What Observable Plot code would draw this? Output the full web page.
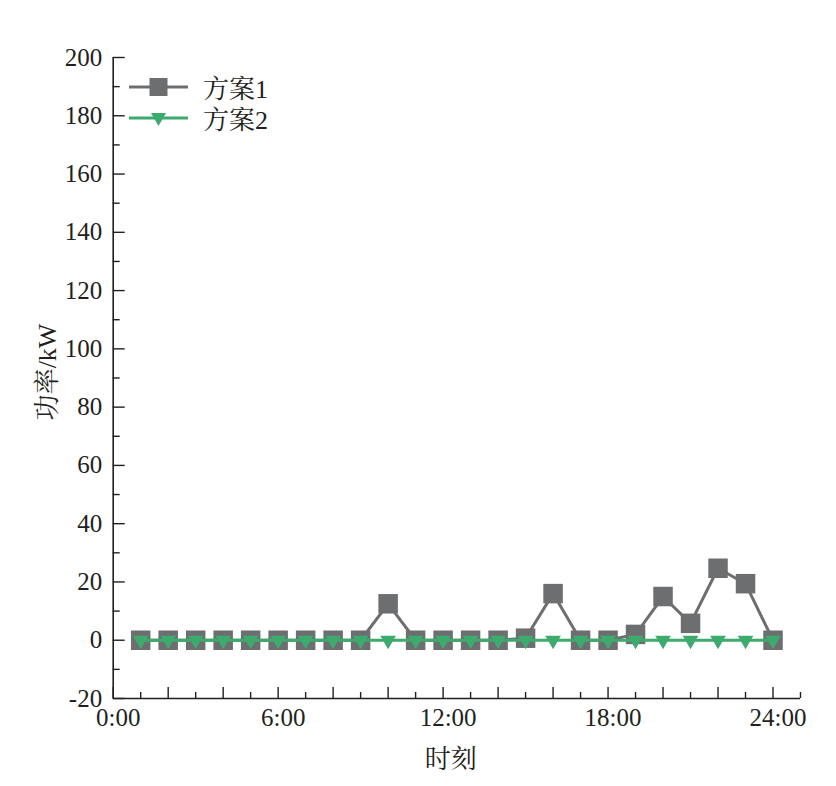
<!DOCTYPE html>
<html>
<head>
<meta charset="utf-8">
<script src="https://cdn.jsdelivr.net/npm/d3@7"></script>
<script src="https://cdn.jsdelivr.net/npm/@observablehq/plot@0.6"></script>
<style>
  html, body { margin: 0; padding: 0; background: #fff; }
  #wrap { position: relative; width: 836px; height: 786px; }
  .legend { position: absolute; left: 129px; top: 71px; font-family: "Liberation Serif", "Noto Serif CJK SC", "Noto Sans CJK SC", serif; font-size: 26px; color: #231f20; }
  .legend .row { display: flex; align-items: center; height: 31px; }
  .legend svg { margin-right: 14px; }
</style>
</head>
<body>
<div id="wrap"></div>
<script>
const hours = d3.range(1, 25);
const plan1 = [0,0,0,0,0,0,0,0,0,12.5,0,0,0,0,0.7,16,0,0,2,15,5.8,24.7,19.4,0];
const plan2 = [0,0,0,0,0,0,0,0,0,0,0,0,0,0,0,0,0,0,0,0,0,0,0,0];
const seriesNames = ["方案1", "方案2"];
const seriesColors = ["#6d6e70", "#3daa6e"];
const xLabelTicks = [0, 6, 12, 18, 24];
const xTickLabels = ["0:00", "6:00", "12:00", "18:00", "24:00"];
const yLabelTicks = d3.range(-20, 201, 20);
const xTitle = "时刻";
const yTitle = "功率/kW";

const d1 = hours.map((h, i) => ({h, v: plan1[i]}));
const d2 = hours.map((h, i) => ({h, v: plan2[i]}));
const allHours = d3.range(0, 26);
const evenHours = allHours.filter(h => h % 2 === 0);
const oddHours = allHours.filter(h => h % 2 === 1);
const minorY = d3.range(-10, 200, 20);

const serif = '"Liberation Serif", "Noto Serif CJK SC", "Noto Sans CJK SC", serif';

const chart = Plot.plot({
  width: 836,
  height: 786,
  marginLeft: 112.7,
  marginRight: 36,
  marginTop: 57,
  marginBottom: 88,
  style: {fontFamily: serif, fontSize: "25px", color: "#231f20", background: "white", overflow: "visible"},
  x: {domain: [0, 25]},
  y: {domain: [-20, 200]},
  marks: [
    // axis lines
    Plot.ruleX([0], {y1: -20, y2: 200, stroke: "#231f20", strokeWidth: 1.6}),
    Plot.ruleY([-20], {x1: 0, x2: 25, stroke: "#231f20", strokeWidth: 1.6}),
    // y ticks (inward)
    Plot.axisY(yLabelTicks, {tickSize: -12, tickFormat: () => "", label: null, strokeWidth: 1.4}),
    Plot.axisY(minorY, {tickSize: -7, tickFormat: () => "", label: null, strokeWidth: 1.4}),
    Plot.axisY(yLabelTicks, {tickSize: 0, tickPadding: 11, label: null, fontSize: 25, fontFamily: serif,
      tickFormat: d => String(d)}),
    // x ticks (inward)
    Plot.axisX(evenHours, {tickSize: -11, tickFormat: () => "", label: null, strokeWidth: 1.4}),
    Plot.axisX(oddHours, {tickSize: -6, tickFormat: () => "", label: null, strokeWidth: 1.4}),
    Plot.axisX(xLabelTicks, {tickSize: 0, tickPadding: 10, label: null, dx: 5, fontSize: 25, fontFamily: serif,
      tickFormat: d => xTickLabels[xLabelTicks.indexOf(d)]}),
    // titles
    Plot.text([yTitle], {frameAnchor: "left", textAnchor: "middle", lineAnchor: "middle", rotate: -90, dx: -66, dy: -6, fontSize: 26, fontFamily: serif, fill: "#231f20"}),
    Plot.text([xTitle], {frameAnchor: "bottom", lineAnchor: "middle", dx: -6, dy: 61, fontSize: 26, fontFamily: serif, fill: "#231f20"}),
    // series 1
    Plot.line(d1, {x: "h", y: "v", stroke: seriesColors[0], strokeWidth: 3}),
    Plot.dot(d1, {x: "h", y: "v", symbol: "square", r: 11, fill: seriesColors[0], stroke: "none"}),
    // series 2
    Plot.line(d2, {x: "h", y: "v", stroke: seriesColors[1], strokeWidth: 3}),
    Plot.dot(d2, {x: "h", y: "v", symbol: "triangle", rotate: 180, r: 5.8, fill: seriesColors[1], stroke: "none"})
  ]
});

const wrap = document.getElementById("wrap");
wrap.appendChild(chart);

const legend = document.createElement("div");
legend.className = "legend";
const sq = `<rect x="20.5" y="6" width="18" height="18" fill="${seriesColors[0]}"/>`;
const tri = `<path d="M22,10 L37,10 L29.5,23 Z" fill="${seriesColors[1]}"/>`;
legend.innerHTML = seriesNames.map((name, i) => `
  <div class="row">
    <svg width="60" height="30" viewBox="0 0 60 30"><line x1="0" x2="59" y1="15" y2="15" stroke="${seriesColors[i]}" stroke-width="3"/>${i === 0 ? sq : tri}</svg>
    <span>${name}</span>
  </div>`).join("");
wrap.appendChild(legend);
</script>
</body>
</html>
